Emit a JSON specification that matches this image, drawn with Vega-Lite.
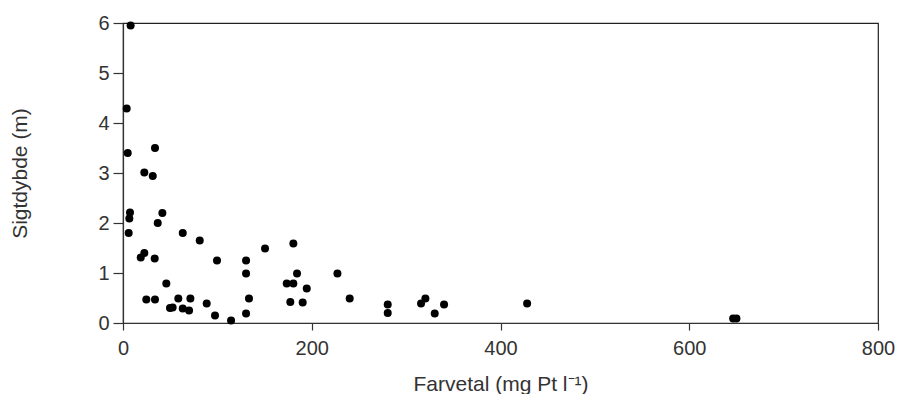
{
  "$schema": "https://vega.github.io/schema/vega-lite/v6.json",
  "width": 755,
  "height": 300,
  "autosize": {"type": "none"},
  "padding": {"left": 123, "top": 23, "right": 20, "bottom": 71},
  "background": "white",
  "config": {
    "font": "Liberation Sans",
    "view": {"stroke": "#222", "strokeWidth": 1.2}
  },
  "data": {
    "values": [
      {"farvetal": 8.1, "sigtdybde": 5.95},
      {"farvetal": 3.9, "sigtdybde": 4.29},
      {"farvetal": 5, "sigtdybde": 3.40},
      {"farvetal": 33.9, "sigtdybde": 3.50},
      {"farvetal": 22.6, "sigtdybde": 3.01},
      {"farvetal": 31.5, "sigtdybde": 2.94},
      {"farvetal": 7.4, "sigtdybde": 2.21},
      {"farvetal": 6.7, "sigtdybde": 2.09},
      {"farvetal": 6, "sigtdybde": 1.80},
      {"farvetal": 41.7, "sigtdybde": 2.2},
      {"farvetal": 36.8, "sigtdybde": 2.0},
      {"farvetal": 63.3, "sigtdybde": 1.80},
      {"farvetal": 81.3, "sigtdybde": 1.65},
      {"farvetal": 22.6, "sigtdybde": 1.40},
      {"farvetal": 18.8, "sigtdybde": 1.31},
      {"farvetal": 33.6, "sigtdybde": 1.29},
      {"farvetal": 99.6, "sigtdybde": 1.25},
      {"farvetal": 45.9, "sigtdybde": 0.79},
      {"farvetal": 24.7, "sigtdybde": 0.47},
      {"farvetal": 33.9, "sigtdybde": 0.47},
      {"farvetal": 58.6, "sigtdybde": 0.49},
      {"farvetal": 71.4, "sigtdybde": 0.49},
      {"farvetal": 49.8, "sigtdybde": 0.30},
      {"farvetal": 52.6, "sigtdybde": 0.31},
      {"farvetal": 63.3, "sigtdybde": 0.29},
      {"farvetal": 70, "sigtdybde": 0.25},
      {"farvetal": 88.7, "sigtdybde": 0.39},
      {"farvetal": 97.5, "sigtdybde": 0.15},
      {"farvetal": 114.5, "sigtdybde": 0.05},
      {"farvetal": 130.4, "sigtdybde": 0.19},
      {"farvetal": 133.5, "sigtdybde": 0.49},
      {"farvetal": 130.4, "sigtdybde": 0.99},
      {"farvetal": 130.4, "sigtdybde": 1.25},
      {"farvetal": 150.5, "sigtdybde": 1.49},
      {"farvetal": 180.5, "sigtdybde": 1.59},
      {"farvetal": 184.4, "sigtdybde": 0.99},
      {"farvetal": 173.5, "sigtdybde": 0.79},
      {"farvetal": 180.5, "sigtdybde": 0.79},
      {"farvetal": 194.7, "sigtdybde": 0.69},
      {"farvetal": 177.3, "sigtdybde": 0.42},
      {"farvetal": 190.4, "sigtdybde": 0.41},
      {"farvetal": 227.2, "sigtdybde": 0.99},
      {"farvetal": 240.2, "sigtdybde": 0.49},
      {"farvetal": 280.5, "sigtdybde": 0.37},
      {"farvetal": 280.5, "sigtdybde": 0.20},
      {"farvetal": 315.8, "sigtdybde": 0.39},
      {"farvetal": 320.4, "sigtdybde": 0.49},
      {"farvetal": 330.3, "sigtdybde": 0.19},
      {"farvetal": 340.2, "sigtdybde": 0.37},
      {"farvetal": 428.2, "sigtdybde": 0.39},
      {"farvetal": 646.5, "sigtdybde": 0.09},
      {"farvetal": 650, "sigtdybde": 0.09}
    ]
  },
  "mark": {"type": "circle", "color": "#000", "opacity": 1, "size": 64},
  "encoding": {
    "x": {
      "field": "farvetal",
      "type": "quantitative",
      "scale": {"domain": [0, 800], "nice": false, "zero": true},
      "axis": {
        "grid": false,
        "domainColor": "#333",
        "domainWidth": 1.2,
        "tickColor": "#333",
        "tickWidth": 1.2,
        "labelColor": "#333",
        "titleColor": "#333",
        "labelFont": "Liberation Sans",
        "titleFont": "Liberation Sans",
        "labelFontSize": 20,
        "titleFontSize": 21,
        "titleFontWeight": "normal",
        "labelFlush": false,
        "labelOverlap": false,
        "values": [0, 200, 400, 600, 800],
        "tickSize": 7,
        "labelPadding": 8,
        "title": "Farvetal (mg Pt l⁻¹)",
        "titleY": 61,
        "titleBaseline": "middle"
      }
    },
    "y": {
      "field": "sigtdybde",
      "type": "quantitative",
      "scale": {"domain": [0, 6], "nice": false},
      "axis": {
        "grid": false,
        "domainColor": "#333",
        "domainWidth": 1.2,
        "tickColor": "#333",
        "tickWidth": 1.2,
        "labelColor": "#333",
        "titleColor": "#333",
        "labelFont": "Liberation Sans",
        "titleFont": "Liberation Sans",
        "labelFontSize": 20,
        "titleFontSize": 21,
        "titleFontWeight": "normal",
        "labelFlush": false,
        "labelOverlap": false,
        "values": [0, 1, 2, 3, 4, 5, 6],
        "tickSize": 10,
        "labelPadding": 4,
        "title": "Sigtdybde (m)",
        "titleX": -103,
        "titleY": 150,
        "titleAngle": -90,
        "titleAlign": "center",
        "titleBaseline": "middle"
      }
    }
  }
}
